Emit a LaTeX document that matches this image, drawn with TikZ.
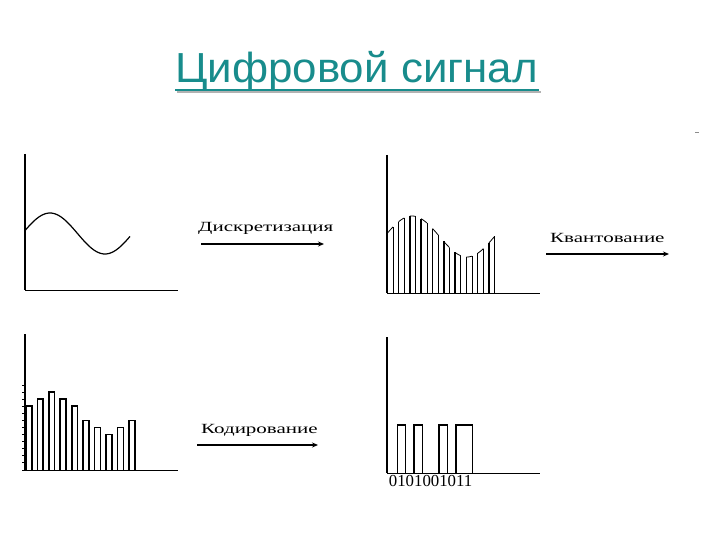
\documentclass[tikz,border=0pt]{standalone}
\usepackage{fontspec}
\usepackage{graphicx}
\setmainfont{Liberation Serif}
\newfontfamily\titlefont{Liberation Sans}
\usetikzlibrary{arrows.meta}
\definecolor{tealtitle}{RGB}{24,140,140}
\tikzset{
  axis/.style={line width=1.8pt, line cap=butt},
  baseaxis/.style={line width=1pt},
  curveline/.style={line width=1.2pt},
  thickedge/.style={line width=1.5pt},
  thinedge/.style={line width=0.8pt},
  barbox/.style={line width=1.6pt},
  bitbox/.style={line width=1.5pt},
  procarrow/.style={line width=1.2pt, -{Stealth[length=6pt,width=5pt]}},
  lbl/.style={anchor=base west, inner sep=0pt},
}
\newcommand{\titletext}{\scalebox{1.045}[1]{Цифровой сигнал}}
\newcommand{\proclabel}[1]{\fontsize{14}{14}\selectfont\scalebox{1.5}[1]{#1}}
\begin{document}
\begin{tikzpicture}[x=1pt,y=-1pt]
\useasboundingbox (0,0) rectangle (720,540);
% title with underline and its shadow
\node[lbl, text=tealtitle] (title) at (175,83) {\titlefont\fontsize{42}{42}\selectfont\titletext};
\draw[black!30, line width=2pt] (177,92.5) -- (541,92.5);
\draw[tealtitle, line width=2.2pt] (175,90) -- (539,90);
% small mark
\draw[black!45, line width=0.8pt] (695,132) -- (699,132);

% ---- chart 1: analog signal
\draw[axis] (25,154) -- (25,290);
\draw[baseaxis] (25,290) -- (178,290);
\draw[curveline] plot[domain=25:130, samples=60, smooth] (\x,{233.5-20.5*sin(3.272727*(\x-22.5))});

% ---- chart 2: sampled signal
\draw[axis] (387,155) -- (387,293);
\draw[baseaxis] (387,293) -- (540,293);
\foreach \k in {0,...,9}{
  \pgfmathsetmacro{\xa}{387.3+11.3*\k}
  \pgfmathsetmacro{\xb}{\xa+5.7}
  \draw[thickedge] (\xa,293) -- (\xa,{236.5-20.5*sin(3.272727*(\xa-384.5))});
  \draw[thinedge] plot[domain=\xa:\xb, samples=6] (\x,{236.5-20.5*sin(3.272727*(\x-384.5))});
  \draw[thinedge] (\xb,293) -- (\xb,{236.5-20.5*sin(3.272727*(\xb-384.5))});
}

% ---- chart 3: quantized signal
\draw[axis] (25,334) -- (25,470);
\draw[baseaxis] (25,470) -- (178,470);
\foreach \k in {0,...,12}{
  \draw[line width=0.9pt] (22.3,{385+7.08*\k}) -- (25,{385+7.08*\k});
}
\foreach \k/\lev in {0/3,1/2,2/1,3/2,4/3,5/5,6/6,7/7,8/6,9/5}{
  \pgfmathsetmacro{\xa}{25.9+11.45*\k}
  \draw[barbox] (\xa,470) -- (\xa,{385+7.08*\lev}) -- ({\xa+5.8},{385+7.08*\lev}) -- ({\xa+5.8},470);
}

% ---- chart 4: coded signal
\draw[axis] (387,337) -- (387,473);
\draw[baseaxis] (387,473) -- (540,473);
\foreach \a/\b in {1/2,3/4,6/7,8/10}{
  \draw[bitbox] ({389+8.35*\a},473) -- ({389+8.35*\a},425) -- ({389+8.35*\b},425) -- ({389+8.35*\b},473);
}
\node[lbl] (bits) at (388.7,486.5) {\fontsize{16.8}{16.8}\selectfont 0101001011};

% ---- process labels and arrows
\node[lbl] (l1) at (198,232) {\proclabel{Дискретизация}};
\coordinate (a1s) at (201,244); \coordinate (a1e) at (324,244);
\draw[procarrow] (a1s) -- (a1e);

\node[lbl] (l2) at (550,243) {\proclabel{Квантование}};
\coordinate (a2s) at (546,254); \coordinate (a2e) at (669,254);
\draw[procarrow] (a2s) -- (a2e);

\node[lbl] (l3) at (201,433) {\proclabel{Кодирование}};
\coordinate (a3s) at (197,445); \coordinate (a3e) at (318,445);
\draw[procarrow] (a3s) -- (a3e);
\end{tikzpicture}
\end{document}
